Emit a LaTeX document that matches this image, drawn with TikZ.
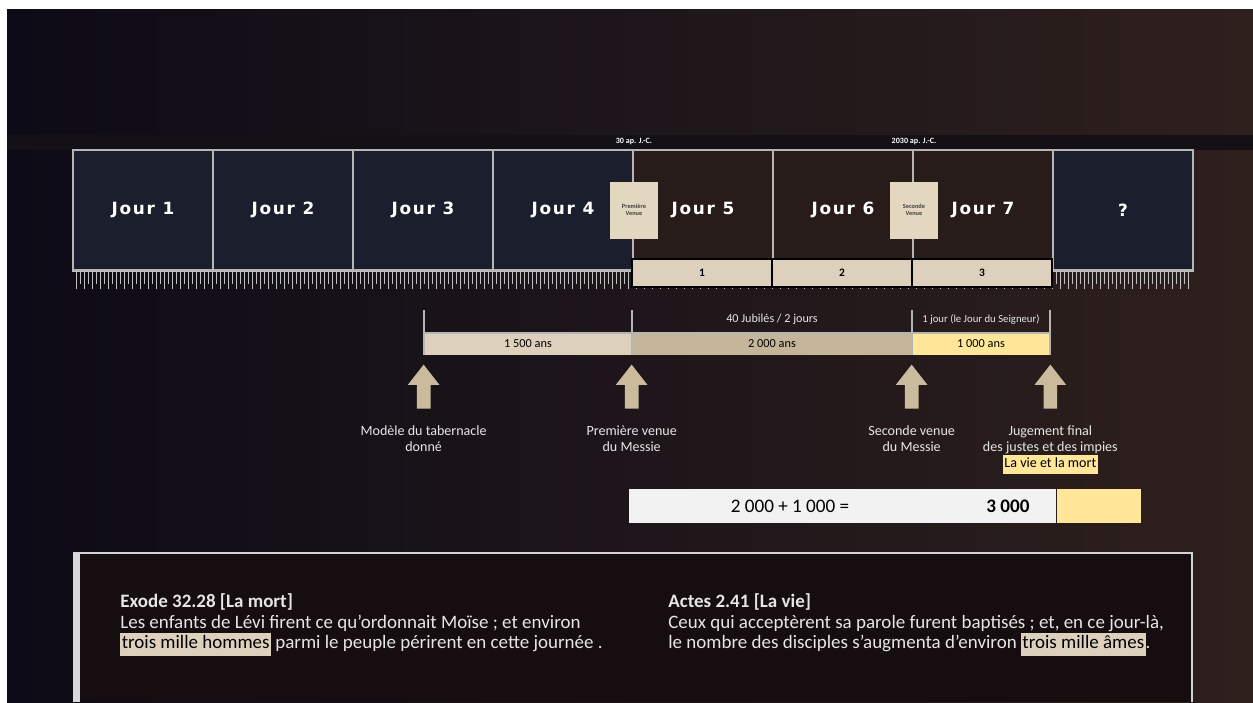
\documentclass[tikz,border=0pt]{standalone}
\usepackage{fontspec}
\setmainfont{Carlito}
\newfontfamily\jourfont[LetterSpace=10]{DejaVu Sans}
\usepackage{xcolor}
\usetikzlibrary{positioning,shapes.arrows,calc}
\definecolor{fondNuit}{HTML}{0D0B17}
\definecolor{fondBrun}{HTML}{2E201D}
\definecolor{bandeSombre}{HTML}{131116}
\definecolor{jourBleu}{HTML}{1B1F2D}
\definecolor{jourBrun}{HTML}{271C19}
\definecolor{traitGris}{HTML}{B5B5B5}
\definecolor{beigeClair}{HTML}{DDD1BD}
\definecolor{beigeFonce}{HTML}{C6B699}
\definecolor{beigeVenue}{HTML}{E4D7C0}
\definecolor{flecheBeige}{HTML}{CBBB9D}
\definecolor{jauneClair}{HTML}{FFE699}
\definecolor{blancCasse}{HTML}{F2F2F2}
\definecolor{panneauFonce}{HTML}{150D10}
\definecolor{texteClair}{HTML}{E6E6E6}
\newcommand{\surligne}[2]{{\setlength{\fboxsep}{0.8pt}\colorbox{#1}{\color{black}\strut #2}}}
\tikzset{
  jour/.style={
    rectangle, draw=traitGris, line width=1.1pt, fill=jourBleu,
    minimum width=28mm, minimum height=24mm, inner sep=0pt,
    font=\jourfont\bfseries\fontsize{9.6}{11}\selectfont, text=white!90},
  jourB/.style={jour, fill=jourBrun},
  venue/.style={
    rectangle, fill=beigeVenue, minimum width=9.6mm, minimum height=11.4mm,
    align=center, inner sep=0.5pt, text=black!75,
    font=\bfseries\fontsize{3.6}{4.2}\selectfont},
  date/.style={font=\bfseries\fontsize{4.6}{5}\selectfont, text=white!85},
  periode/.style={
    rectangle, draw=black, line width=0.9pt, fill=beigeClair,
    minimum width=28mm, minimum height=5.6mm, inner sep=0pt,
    font=\bfseries\fontsize{6.5}{7}\selectfont},
  barre/.style={rectangle, minimum height=4.4mm, inner sep=0pt,
    font=\fontsize{7}{8}\selectfont},
  repere/.style={draw=traitGris, line width=1.2pt},
  graduation/.style={draw=traitGris!85, line width=0.5pt},
  flecheBloc/.style={
    single arrow, shape border rotate=90, fill=flecheBeige,
    minimum height=8.8mm, inner xsep=1.3mm, inner ysep=0pt,
    single arrow head extend=1.8mm, single arrow tip angle=76},
  etiquette/.style={font=\fontsize{6.9}{8}\selectfont, text=texteClair},
  legende/.style={font=\fontsize{8}{9.2}\selectfont, text=texteClair,
    align=center, inner sep=1pt},
  egalite/.style={rectangle, minimum height=6.8mm, inner sep=0pt},
  verset/.style={font=\fontsize{10.8}{11.3}\selectfont, text=texteClair,
    align=left, inner sep=0pt}
}

\begin{document}
\begin{tikzpicture}[x=0.2mm, y=-0.2mm]

  % --- Fond
  \fill[white] (0,0) rectangle (1253,702);
  \useasboundingbox (0,0) rectangle (1253,702);
  \shade[left color=fondNuit, right color=fondBrun] (7,9) rectangle (1253,702);
  \fill[bandeSombre] (7,135) rectangle (1253,150);

  % --- Les jours
  \foreach \i in {1,...,4}
    \node[jour] (j\i) at ({3+140*\i},210) {Jour \i};
  \foreach \i in {5,6,7}
    \node[jourB] (j\i) at ({3+140*\i},210) {Jour \i};
  \node[jour] (j8) at (1123,210) {?};

  \node[date] (d1) at (j4.north east) [yshift=1.6mm] {30 ap. J.-C.};
  \node[date] (d2) at (j6.north east) [yshift=1.6mm] {2030 ap. J.-C.};

  \node[venue] (v1) at (j4.east) {Première\\Venue};
  \node[venue] (v2) at (j6.east) {Seconde\\Venue};

  % --- Graduations
  \draw[graduation] (j1.south west) -- (j8.south east);
  \foreach \t in {0,...,278}
    \draw[graduation] ({76+4*\t},271) -- ++(0,{mod(\t,2)==0 ? 18 : 13});

  \node[periode] (p1) at (702,273) {1};
  \node[periode] (p2) at (842,273) {2};
  \node[periode] (p3) at (982,273) {3};

  % --- Durees
  \node[barre, fill=beigeClair, minimum width=41.6mm] (b1) at (528,344) {1 500 ans};
  \node[barre, fill=beigeFonce, minimum width=56mm] (b2) at (772,344) {2 000 ans};
  \node[barre, fill=jauneClair, minimum width=27.6mm] (b3) at (981,344) {1 000 ans};

  \draw[repere] (b1.north west) -- (b3.north east);
  \foreach \b in {b1,b2,b3}
    \draw[repere] (\b.south west) -- ++(0,-45);
  \draw[repere] (b3.south east) -- ++(0,-45);

  \node[etiquette] (l1) at (772,319) {40 Jubilés / 2 jours};
  \node[etiquette, font=\fontsize{6.1}{7}\selectfont] (l2) at (981,319) {1 jour (le Jour du Seigneur)};

  % --- Evenements
  \node[flecheBloc] (f1) at (b1.south west |- 0,391) {};
  \node[flecheBloc] (f2) at (b2.south west |- 0,391) {};
  \node[flecheBloc] (f3) at (b3.south west |- 0,391) {};
  \node[flecheBloc] (f4) at (b3.south east |- 0,391) {};

  \node[legende, below=2.9mm of f1] (e1) {Modèle du tabernacle\\donné};
  \node[legende, below=2.9mm of f2] (e2) {Première venue\\du Messie};
  \node[legende, below=2.9mm of f3] (e3) {Seconde venue\\du Messie};
  \node[legende, below=2.9mm of f4] (e4) {Jugement final\\des justes et des impies\\
    \surligne{jauneClair}{La vie et la mort}};

  % --- Somme
  \node[egalite, fill=blancCasse, minimum width=85.4mm] (s1) at (842.5,506) {};
  \node[egalite, fill=jauneClair, minimum width=16.8mm, right=0pt of s1] (s2) {};
  \node[font=\fontsize{10.9}{12}\selectfont] (s3) at (790,506) {2 000 + 1 000 =};
  \node[font=\bfseries\fontsize{10.9}{12}\selectfont] (s4) at (1008,506) {3 000};

  % --- Versets
  \fill[panneauFonce] (73,553) rectangle (1192,702);
  \draw[traitGris!60, line width=0.8pt] (73,553) -- (1192,553) -- (1192,702);
  \fill[white!85!black] (73,553) rectangle (80,702);

  \node[verset, anchor=north west] (v3) at (120,593)
    {\textbf{Exode 32.28 [La mort]}\\[1pt]
     Les enfants de Lévi firent ce qu’ordonnait Moïse ; et environ\\
     \surligne{beigeClair}{trois mille hommes} parmi le peuple périrent en cette journée .};
  \node[verset, anchor=north west] (v4) at (668,593)
    {\textbf{Actes 2.41 [La vie]}\\[1pt]
     Ceux qui acceptèrent sa parole furent baptisés ; et, en ce jour-là,\\
     le nombre des disciples s’augmenta d’environ \surligne{beigeClair}{trois mille âmes}.};

\end{tikzpicture}
\end{document}
